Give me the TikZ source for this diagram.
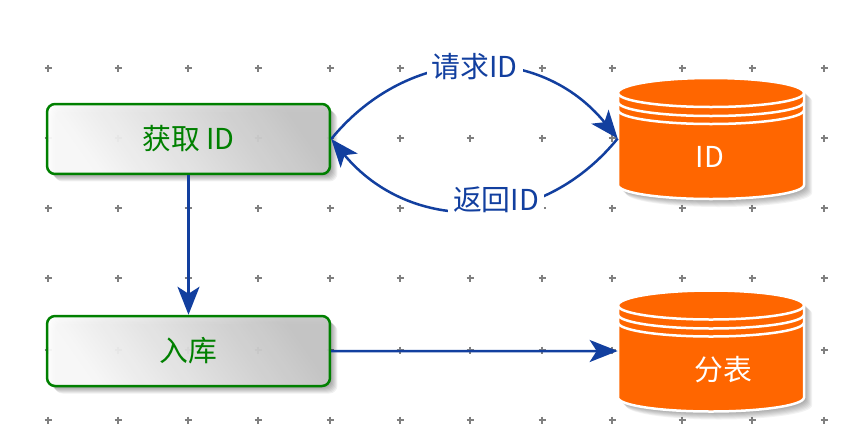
\documentclass[tikz,border=0pt]{standalone}
\usepackage{fontspec}
\setmainfont{Noto Sans CJK SC}
\usetikzlibrary{arrows.meta,shadows}
\definecolor{linkblue}{HTML}{123F9F}
\definecolor{boxgreen}{HTML}{008000}
\definecolor{dborange}{HTML}{FF6600}
\tikzset{>={Stealth[length=.56cm,width=.44cm,inset=.14cm]}}
\tikzset{
	softshadow/.style={drop shadow={shadow xshift=#1,shadow yshift=-#1,opacity=.06,fill=black,draw=none}},
	flowbox/.style={rectangle,rounded corners=.16cm,draw=boxgreen,line width=.05cm,
		minimum width=5.66cm,minimum height=1.4cm,inner sep=0pt,text=boxgreen,
		softshadow=.03cm,softshadow=.05cm,softshadow=.07cm,softshadow=.09cm,softshadow=.11cm,softshadow=.13cm,softshadow=.15cm,
		left color=white,right color=black!22,shading angle=125,fill opacity=.92,text opacity=1},
	dbnode/.style={rectangle,minimum width=3.72cm,minimum height=2.42cm,inner sep=0pt},
	link/.style={->,draw=linkblue,line width=.05cm},
	linklabel/.style={fill=white,text=linkblue,inner xsep=.1cm,inner ysep=.02cm},
	gridcross/.style={draw=black!50,line width=.04cm}
}
\newcommand{\dbpath}{(618,93) -- (618,185) arc[x radius=93,y radius=14,start angle=180,end angle=0]
	-- (804,93) arc[x radius=93,y radius=15,start angle=0,end angle=-180] -- cycle}
\begin{document}
\begin{tikzpicture}[x=.02cm,y=-.02cm,font=\fontsize{16.4}{19}\selectfont]
	\useasboundingbox (0,0) rectangle (848,430);
	% dotted grid
	\foreach \gx in {48,118,188,258,330,400,470,542,612,682,752,824}
		\foreach \gy in {68,138,208,278,350,420}
			\draw[gridcross] (\gx-3.5,\gy) -- (\gx+3.5,\gy) (\gx,\gy-3.5) -- (\gx,\gy+3.5);
	% boxes
	\node[flowbox] (getid) at (188.5,139) {获取 ID};
	\node[flowbox] (store) at (188.5,351) {入库};
	% cylinders
	\foreach \dy/\dbname in {0/dbid,212.5/dbtable} {
		\begin{scope}[yshift=-\dy*.02cm]
			\foreach \k in {1,2,...,8}
				\fill[black,opacity=.05,shift={(\k,\k)}] \dbpath;
			\draw[fill=dborange,draw=white,line width=.05cm] \dbpath;
			\foreach \base in {93,102,110}
				\draw[white,line width=.05cm] (618,\base) arc[x radius=93,y radius=14,start angle=180,end angle=0];
			\node[dbnode] (\dbname) at (711,138.5) {};
		\end{scope}
	}
	\node[text=white] (idtext) at (710,157) {ID};
	\node[text=white] (tabletext) at (723,370) {分表};
	% links
	\draw[link] (getid) -- (store);
	\draw[link] (store) -- (dbtable.west);
	\draw[link] (getid.east) .. controls (410,43) and (540,43) .. (dbid.west)
		node[linklabel,pos=.5] (ask) {请求ID};
	\draw[link] (dbid.west) .. controls (540,234) and (410,234) .. (getid.east);
	\node[linklabel] (answer) at (496,200) {返回ID};
\end{tikzpicture}
\end{document}
